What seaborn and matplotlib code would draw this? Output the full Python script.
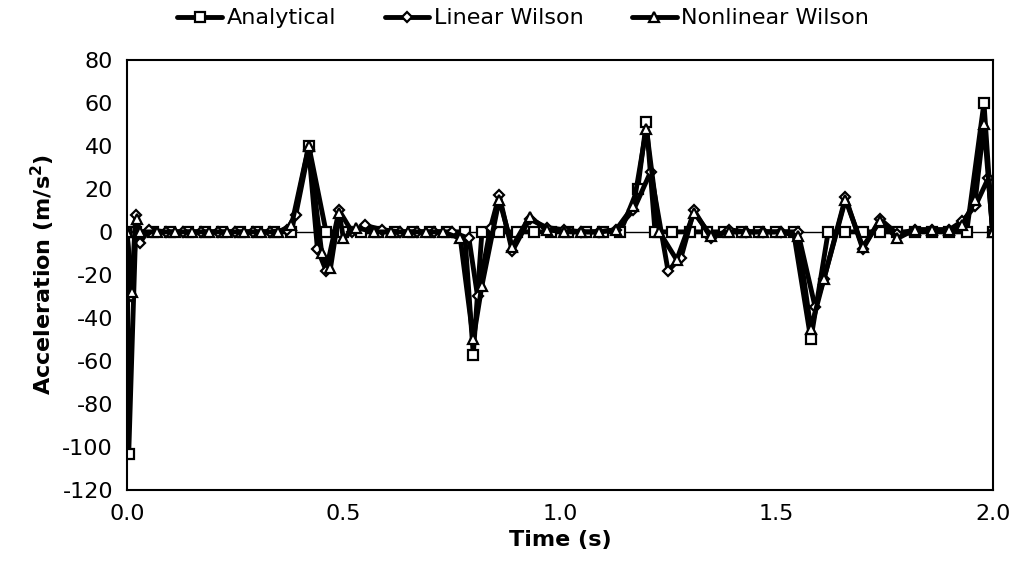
import matplotlib.pyplot as plt
import pandas as pd
import seaborn as sns

# Analytical (squares)
t_analytical = [0.000, 0.004, 0.02, 0.06, 0.10, 0.14, 0.18, 0.22, 0.26, 0.30, 0.34, 0.38,
                0.42, 0.46, 0.50, 0.54, 0.58, 0.62, 0.66, 0.70, 0.74, 0.78,
                0.80, 0.82, 0.86, 0.90, 0.94, 0.98, 1.02, 1.06, 1.10, 1.14,
                1.18, 1.20, 1.22, 1.26, 1.30, 1.34, 1.38, 1.42, 1.46, 1.50, 1.54,
                1.58, 1.62, 1.66, 1.70, 1.74, 1.78, 1.82, 1.86, 1.90, 1.94,
                1.98, 2.00]
a_analytical = [0, -103, 0, 0, 0, 0, 0, 0, 0, 0, 0, 0,
                40, 0, 0, 0, 0, 0, 0, 0, 0, 0,
                -57, 0, 0, 0, 0, 0, 0, 0, 0, 0,
                20, 51, 0, 0, 0, 0, 0, 0, 0, 0, 0,
                -50, 0, 0, 0, 0, 0, 0, 0, 0, 0,
                60, 0]

# Linear Wilson (diamonds)
t_linear = [0.00, 0.01, 0.02, 0.03, 0.05, 0.09, 0.13, 0.17, 0.21, 0.25, 0.29, 0.33,
            0.37, 0.39, 0.42, 0.44, 0.46, 0.49, 0.52, 0.55, 0.59, 0.63, 0.67, 0.71, 0.75,
            0.79, 0.81, 0.84, 0.86, 0.89, 0.93, 0.97, 1.01, 1.05, 1.09, 1.13,
            1.17, 1.21, 1.25, 1.28, 1.31, 1.35, 1.39, 1.43, 1.47, 1.51, 1.55,
            1.59, 1.61, 1.66, 1.70, 1.74, 1.78, 1.82, 1.86, 1.90, 1.93, 1.96, 1.99, 2.00]
a_linear = [0, -30, 8, -5, 1, 0, 0, 0, 0, 0, 0, 0,
            1, 8, 38, -8, -18, 10, 0, 3, 1, 0, 0, 0, 0,
            -3, -30, 2, 17, -9, 6, 2, 1, 0, 0, 1,
            10, 28, -18, -12, 10, -3, 1, 0, 0, 0, 0,
            -35, -22, 16, -8, 6, -1, 1, 1, 1, 5, 12, 25, 0]

# Nonlinear Wilson (triangles)
t_nonlinear = [0.00, 0.012, 0.022, 0.03, 0.07, 0.11, 0.15, 0.19, 0.23, 0.27, 0.31, 0.35,
               0.38, 0.42, 0.45, 0.47, 0.49, 0.50, 0.53, 0.57, 0.61, 0.65, 0.69, 0.73,
               0.77, 0.80, 0.82, 0.86, 0.89, 0.93, 0.97, 1.01, 1.05, 1.09, 1.13,
               1.17, 1.20, 1.23, 1.27, 1.31, 1.35, 1.39, 1.43, 1.47, 1.51, 1.55,
               1.58, 1.61, 1.66, 1.70, 1.74, 1.78, 1.82, 1.86, 1.90, 1.93, 1.96, 1.98, 2.00]
a_nonlinear = [0, -28, 6, 0, 0, 0, 0, 0, 0, 0, 0, 0,
               3, 40, -10, -17, 9, -3, 2, 0, 0, 0, 0, 0,
               -3, -50, -25, 15, -7, 7, 1, 0, 0, 0, 1,
               12, 48, 0, -13, 9, -2, 0, 0, 0, 0, -2,
               -45, -22, 15, -7, 5, -3, 1, 1, 1, 3, 15, 50, 0]

series = [("Analytical", t_analytical, a_analytical, "s", 7),
          ("Linear Wilson", t_linear, a_linear, "D", 5),
          ("Nonlinear Wilson", t_nonlinear, a_nonlinear, "^", 7)]

sns.set_theme(style="white")
plt.rcParams['font.family'] = ['DejaVu Sans']
plt.rcParams['axes.unicode_minus'] = False
plt.rcParams['text.color'] = 'black'
plt.rcParams['axes.labelcolor'] = 'black'

fig = plt.figure(figsize=(10.16, 5.8), dpi=100)
ax = fig.add_axes([0.125, 0.155, 0.852, 0.742])

for name, t, a, m, ms in series:
    df = pd.DataFrame({'Time': t, 'Acc': a})
    sns.lineplot(data=df, x='Time', y='Acc', ax=ax, color='black', linewidth=3.5,
                 marker=m, markersize=ms, markerfacecolor='white',
                 markeredgecolor='black', markeredgewidth=1.6, label=name,
                 sort=False)

ax.axhline(0, color='black', linewidth=1.0, zorder=0)
ax.set_xlim(0, 2.0)
ax.set_ylim(-120, 80)
ax.set_xticks([0.0, 0.5, 1.0, 1.5, 2.0])
ax.set_xticklabels(['0.0', '0.5', '1.0', '1.5', '2.0'])
ax.set_yticks(range(-120, 81, 20))
ax.tick_params(axis='both', labelsize=16, length=0, pad=10, colors='black')
for s in ax.spines.values():
    s.set_color('black')
    s.set_linewidth(1.5)

ax.set_xlabel('Time (s)', fontsize=16, fontweight='bold', color='black')
ax.set_ylabel('Acceleration (m/s$^\\mathbf{2}$)', fontsize=16, fontweight='bold', color='black')

ax.get_legend().remove()
handles, labels = ax.get_legend_handles_labels()
fig.legend(handles, labels, loc='upper center', bbox_to_anchor=(0.515, 1.02), ncol=3,
           frameon=False, fontsize=16, handlelength=2.0, handletextpad=0.2,
           columnspacing=2.2, labelcolor='black')

fig.savefig('out.png', dpi=100)
